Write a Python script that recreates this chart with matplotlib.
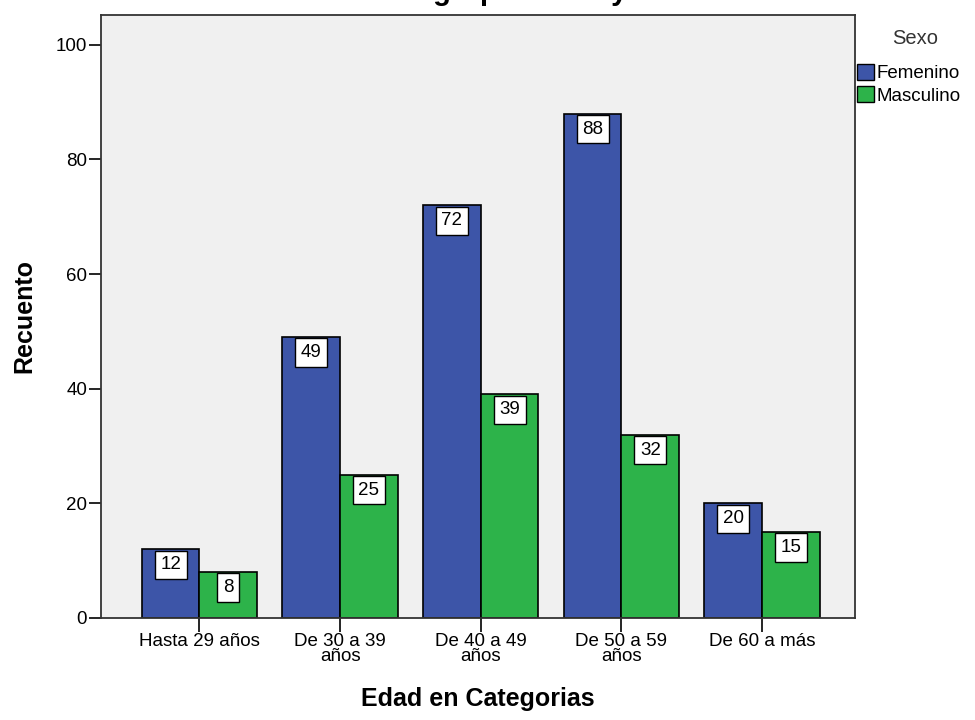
import numpy as np
import matplotlib
matplotlib.use("Agg")
import matplotlib.pyplot as plt
from matplotlib.patches import Patch

categories = ["Hasta 29 años", "De 30 a 39\naños", "De 40 a 49\naños", "De 50 a 59\naños", "De 60 a más"]
femenino = [12, 49, 72, 88, 20]
masculino = [8, 25, 39, 32, 15]
series_names = ["Femenino", "Masculino"]
colors = ["#3D55A8", "#2DB34A"]

plt.rcParams["font.family"] = ["Liberation Sans", "DejaVu Sans"]

fig = plt.figure(figsize=(9.75, 7.2), dpi=100)
ax = fig.add_axes([101 / 975, 1 - 618 / 720, 754 / 975, 603 / 720])
ax.set_facecolor("#F0F0F0")

x = np.arange(len(categories))
w = 0.41
for vals, col, off in [(femenino, colors[0], -w / 2), (masculino, colors[1], w / 2)]:
    bars = ax.bar(x + off, vals, width=w, color=col, edgecolor="black", linewidth=1.2)
    for b, v in zip(bars, vals):
        ax.annotate(str(v), (b.get_x() + b.get_width() / 2, v), xytext=(0, -5),
                    textcoords="offset points", ha="center", va="top", fontsize=13.5,
                    bbox=dict(boxstyle="square,pad=0.3", fc="white", ec="black", lw=1.0))

ax.set_xlim(-0.70, 4.66)
ax.set_ylim(0, 105.2)
ax.set_yticks([0, 20, 40, 60, 80, 100])
ax.set_xticks(x)
ax.set_xticklabels(categories, fontsize=13.5, linespacing=0.8)
ax.tick_params(axis="y", labelsize=13.5, length=9, width=1.2, direction="out", pad=1)
ax.tick_params(axis="x", length=10, width=1.2, direction="out", pad=1)
for s in ax.spines.values():
    s.set_linewidth(1.3)
    s.set_color("#333333")

ax.set_ylabel("Recuento", fontsize=18, fontweight="bold", labelpad=14)
ax.set_xlabel("Edad en Categorias", fontsize=18, fontweight="bold", labelpad=16)

# title sits mostly above the canvas, as in the source image
fig.text(0.582, 1 - 0.5 / 720, "grupo etario y sexo", ha="center", va="baseline",
         fontsize=21, fontweight="bold")

fig.text(915 / 975, 1 - 38 / 720, "Sexo", ha="center", va="center",
         fontsize=14.5, color="#333333")
handles = [Patch(facecolor=c, edgecolor="black", label=n) for c, n in zip(colors, series_names)]
leg = fig.legend(handles=handles, loc="upper left",
                 bbox_to_anchor=(857 / 975, 1 - 64 / 720), frameon=False,
                 fontsize=13.5, handlelength=0.9, handleheight=0.9,
                 handletextpad=0.12, borderaxespad=0, labelspacing=0.22, borderpad=0)

fig.savefig("out.png", dpi=100)
